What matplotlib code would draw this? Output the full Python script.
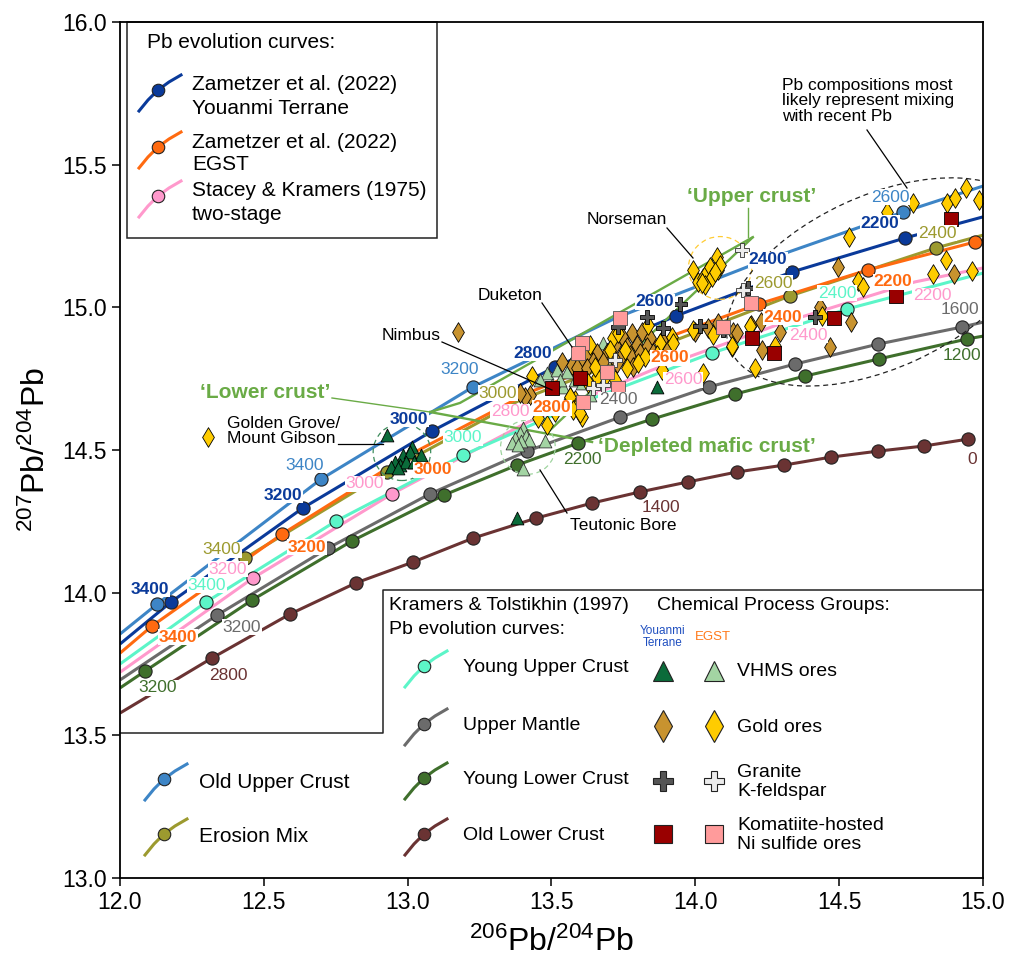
#!/usr/bin/env python3
"""Pb isotope evolution diagram: 207Pb/204Pb vs 206Pb/204Pb with ore groups."""

import numpy as np
import matplotlib
matplotlib.use("Agg")
import matplotlib.pyplot as plt
from matplotlib.patches import Ellipse, Polygon
from matplotlib.transforms import Affine2D

plt.rcParams["font.family"] = ["Liberation Sans", "DejaVu Sans"]
plt.rcParams["mathtext.fontset"] = "custom"
plt.rcParams["mathtext.rm"] = "Liberation Sans"
plt.rcParams["mathtext.default"] = "regular"
SANS = ["Liberation Sans", "DejaVu Sans"]

# -------- evolution curves (206Pb/204Pb, 207Pb/204Pb) --------
ouc_x = [12.00, 12.129, 12.699, 13.227, 13.724, 14.225, 14.722, 15.00]
ouc_y = [13.855, 13.960, 14.398, 14.721, 14.963, 15.159, 15.334, 15.425]
ouc_dots = [1, 2, 3, 6]

yt_x = [12.00, 12.177, 12.636, 13.084, 13.512, 13.933, 14.336, 14.729, 15.00]
yt_y = [13.820, 13.967, 14.297, 14.566, 14.791, 14.970, 15.124, 15.243, 15.317]
yt_dots = [1, 2, 3, 4, 5, 6, 7]

egst_x = [12.00, 12.111, 12.563, 12.991, 13.425, 13.877, 14.221, 14.600, 14.972, 15.00]
egst_y = [13.788, 13.883, 14.205, 14.475, 14.703, 14.885, 15.012, 15.131, 15.229, 15.236]
egst_dots = [1, 2, 6, 7, 8]

sk_x = [12.00, 12.462, 12.945, 13.418, 13.849, 14.311, 14.763, 15.00]
sk_y = [13.721, 14.051, 14.346, 14.598, 14.780, 14.948, 15.089, 15.138]
sk_dots = [1, 2]

yuc_x = [12.00, 12.299, 12.751, 13.192, 13.627, 14.058, 14.527, 15.00]
yuc_y = [13.750, 13.967, 14.251, 14.482, 14.675, 14.840, 14.994, 15.120]
yuc_dots = [1, 2, 3, 5, 6]

um_x = [12.00, 12.337, 12.723, 13.077, 13.415, 13.738, 14.047, 14.346, 14.635, 14.927, 15.00]
um_y = [13.694, 13.921, 14.156, 14.346, 14.496, 14.615, 14.721, 14.801, 14.871, 14.931, 14.948]
um_dots = [1, 2, 3, 4, 5, 6, 7, 8, 9]

ylc_x = [12.00, 12.087, 12.459, 12.806, 13.126, 13.380, 13.592, 13.849, 14.138, 14.381,
         14.638, 14.944, 15.00]
ylc_y = [13.666, 13.725, 13.974, 14.181, 14.342, 14.447, 14.524, 14.608, 14.696, 14.759,
         14.819, 14.889, 14.899]
ylc_dots = list(range(1, 12))

olc_x = [12.00, 12.320, 12.591, 12.820, 13.018, 13.227, 13.446, 13.641, 13.807, 13.974,
         14.145, 14.308, 14.471, 14.635, 14.795, 14.947]
olc_y = [13.578, 13.771, 13.925, 14.034, 14.107, 14.191, 14.261, 14.314, 14.353, 14.388,
         14.423, 14.447, 14.475, 14.496, 14.514, 14.538]
olc_dots = list(range(1, 16))

em_x = [12.434, 12.928, 13.390, 13.860, 14.329, 14.836, 15.00]
em_y = [14.121, 14.423, 14.675, 14.857, 15.040, 15.208, 15.253]
em_dots = [0, 1, 4, 5]

# -------- mixing lines --------
mix_upper_a_x = [13.078, 13.182, 14.200]
mix_upper_a_y = [14.633, 14.665, 15.246]
mix_upper_b_x = [13.488, 14.197]
mix_upper_b_y = [14.563, 15.243]
mix_mafic_x = [13.078, 13.641]
mix_mafic_y = [14.633, 14.528]

# -------- ore samples --------
yt_vhms_x = [12.928, 13.015, 13.046, 12.984, 13.008, 12.956, 12.973, 12.994, 12.942, 12.966,
             13.022, 13.380, 13.867]
yt_vhms_y = [14.552, 14.510, 14.482, 14.482, 14.493, 14.458, 14.447, 14.458, 14.440, 14.437,
             14.458, 14.261, 14.721]

eg_vhms_x = [13.401, 13.390, 13.411, 13.373, 13.422, 13.394, 13.363, 13.383, 13.477, 13.401,
             13.484, 13.519, 13.554, 13.582, 13.540, 13.564, 13.606, 13.679, 13.502, 13.460,
             13.529, 13.634]
eg_vhms_y = [14.577, 14.559, 14.549, 14.542, 14.535, 14.531, 14.524, 14.517, 14.531, 14.433,
             14.770, 14.780, 14.773, 14.745, 14.721, 14.700, 14.735, 14.875, 14.728, 14.745,
             14.745, 14.693]

yt_gold_x = [13.780, 13.814, 13.842, 13.748, 13.762, 13.797, 13.832, 13.721, 13.693, 13.658,
             13.623, 13.599, 13.571, 13.644, 13.679, 13.714, 13.745, 13.773, 13.807, 13.853,
             13.901, 13.884, 13.536, 13.588, 13.623, 13.783, 13.727, 13.425, 13.408, 13.390,
             13.175, 13.999, 14.044, 14.079, 14.131, 14.193, 14.228, 14.145, 14.294, 14.231,
             14.433, 14.496, 14.541, 14.468, 14.899]
yt_gold_y = [14.910, 14.913, 14.892, 14.892, 14.861, 14.868, 14.861, 14.868, 14.840, 14.840,
             14.833, 14.815, 14.798, 14.808, 14.808, 14.826, 14.833, 14.833, 14.840, 14.840,
             14.861, 14.885, 14.808, 14.787, 14.787, 14.791, 14.805, 14.693, 14.686, 14.700,
             14.913, 14.913, 14.927, 14.945, 14.913, 14.938, 14.948, 14.910, 14.913, 14.850,
             15.001, 15.141, 14.948, 14.861, 15.117]

eg_gold_x = [13.992, 14.009, 14.026, 14.040, 14.051, 14.058, 14.075, 14.079, 14.086, 14.033,
             14.023, 14.068,
             13.432, 13.714, 13.731, 13.835, 13.919, 13.922, 13.877, 13.867, 13.825, 13.800,
             13.762, 13.721, 13.686, 13.658, 13.627, 13.582, 13.588, 13.606, 13.564, 13.651,
             13.884, 13.992, 14.026, 14.061, 14.127, 13.575, 13.484, 13.453, 13.512, 13.599,
             13.755, 13.703, 13.634,
             14.756, 14.875, 14.902, 14.941, 14.986, 14.534, 14.871, 14.826, 14.961, 14.565,
             14.583, 14.440, 14.277, 14.127, 14.190, 14.207, 14.666, 12.306]
eg_gold_y = [15.131, 15.089, 15.103, 15.124, 15.141, 15.106, 15.176, 15.131, 15.148, 15.078,
             15.085, 15.124,
             14.759, 14.892, 14.910, 14.938, 14.896, 14.875, 14.875, 14.833, 14.826, 14.805,
             14.787, 14.745, 14.756, 14.756, 14.735, 14.675, 14.651, 14.616, 14.686, 14.791,
             14.780, 14.920, 14.770, 14.903, 14.861, 14.640, 14.587, 14.612, 14.633, 14.630,
             14.850, 14.850, 14.868,
             15.366, 15.366, 15.383, 15.418, 15.376, 15.246, 15.166, 15.117, 15.127, 15.092,
             15.071, 14.969, 14.864, 14.864, 14.934, 14.787, 15.334, 14.545]

yt_gran_x = [13.946, 13.832, 13.731, 13.887, 14.016, 14.096, 14.183, 14.416]
yt_gran_y = [15.012, 14.966, 14.931, 14.927, 14.934, 14.920, 15.068, 14.966]
eg_gran_x = [14.162, 14.165, 13.644, 13.679, 13.721]
eg_gran_y = [15.201, 15.061, 14.717, 14.728, 14.815]

yt_ni_x = [13.502, 13.599, 14.697, 14.482, 14.197, 14.273, 14.888]
yt_ni_y = [14.717, 14.752, 15.040, 14.962, 14.892, 14.840, 15.310]
eg_ni_x = [13.738, 13.606, 13.592, 13.731, 13.609, 14.193, 14.096, 13.693]
eg_ni_y = [14.963, 14.875, 14.840, 14.717, 14.668, 15.015, 14.931, 14.773]

# -------- colours --------
C_OUC, C_YT, C_EGST, C_SK = "#3d85c6", "#0a3a9a", "#ff6a10", "#ff99cc"
C_YUC, C_UM, C_YLC, C_OLC, C_EM = "#5cf5c8", "#6b6b6b", "#3f6f2c", "#6a3333", "#9c9a2f"
C_MIX = "#6aab46"

W, H = 1011, 964
fig = plt.figure(figsize=(W / 100, H / 100), dpi=100)
ax = fig.add_axes([120 / W, 1 - 878 / H, 863 / W, 856 / H])
PX = Affine2D().scale(1 / W, -1 / H).translate(0, 1) + fig.transFigure   # layout in pixels

# -------- curves --------
curves = [
    (em_x, em_y, em_dots, C_EM),
    (olc_x, olc_y, olc_dots, C_OLC),
    (ylc_x, ylc_y, ylc_dots, C_YLC),
    (um_x, um_y, um_dots, C_UM),
    (sk_x, sk_y, sk_dots, C_SK),
    (yuc_x, yuc_y, yuc_dots, C_YUC),
    (egst_x, egst_y, egst_dots, C_EGST),
    (yt_x, yt_y, yt_dots, C_YT),
    (ouc_x, ouc_y, ouc_dots, C_OUC),
]
for cx, cy, dots, col in curves:
    ax.plot(cx, cy, color=col, lw=2.2, zorder=2, solid_capstyle="butt")
    ax.plot(np.array(cx)[dots], np.array(cy)[dots], "o", ms=9.5, mfc=col, mec="#222222",
            mew=0.8, zorder=4)

for mx, my in [(mix_upper_a_x, mix_upper_a_y), (mix_upper_b_x, mix_upper_b_y),
               (mix_mafic_x, mix_mafic_y)]:
    ax.plot(mx, my, color=C_MIX, lw=1.7, zorder=2.5)

# age labels (pixel layout)
age_labels = [
    (C_YT, True, [("3400", 150, 589), ("3200", 283, 495), ("3000", 409, 419), ("2800", 533, 353),
                  ("2600", 655, 302), ("2400", 768, 260), ("2200", 880, 223)]),
    (C_OUC, False, [("3400", 305, 465), ("3200", 460, 370), ("2600", 890, 197)]),
    (C_EGST, True, [("3400", 178, 637), ("3200", 307, 547), ("3000", 433, 470), ("2800", 552, 408),
                    ("2600", 670, 358), ("2400", 783, 317), ("2200", 893, 282)]),
    (C_SK, False, [("3200", 228, 569), ("3000", 365, 484), ("2800", 510, 412), ("2600", 683, 380),
                   ("2400", 808, 335), ("2200", 932, 296)]),
    (C_YUC, False, [("3400", 207, 585), ("3000", 463, 438), ("2400", 837, 293)]),
    (C_UM, False, [("3200", 242, 627), ("2400", 618, 400), ("1600", 960, 310)]),
    (C_YLC, False, [("3200", 158, 688), ("2200", 582, 459), ("1200", 962, 355)]),
    (C_OLC, False, [("2800", 228, 675), ("1400", 661, 508), ("0", 972, 459)]),
    (C_EM, False, [("3400", 222, 550), ("3000", 498, 393), ("2600", 773, 283), ("2400", 937, 233)]),
]
for col, bold, items in age_labels:
    for s, lx, ly in items:
        ax.text(lx, ly, s, transform=PX, ha="center", va="center", fontsize=12.5, color=col,
                fontweight="bold" if bold else "normal", zorder=5.8,
                bbox=dict(fc="white", ec="none", pad=0.4))

# -------- sample groups --------
ax.scatter(yt_vhms_x, yt_vhms_y, marker="^", s=85, c="#0b6b3a", edgecolors="k", linewidths=0.6, zorder=5)
ax.scatter(eg_vhms_x, eg_vhms_y, marker="^", s=85, c="#a3d4a3", edgecolors="#333333", linewidths=0.6, zorder=5)
ax.scatter(yt_gold_x, yt_gold_y, marker="d", s=100, c="#c8932f", edgecolors="k", linewidths=0.6, zorder=5.2)
ax.scatter(eg_gold_x, eg_gold_y, marker="d", s=100, c="#ffcc00", edgecolors="k", linewidths=0.6, zorder=5.3)
ax.scatter(yt_gran_x, yt_gran_y, marker="P", s=100, c="#555555", edgecolors="k", linewidths=0.6, zorder=5.4)
ax.scatter(eg_gran_x, eg_gran_y, marker="P", s=100, c="#ececec", edgecolors="#333333", linewidths=0.6, zorder=5.4)
ax.scatter(yt_ni_x, yt_ni_y, marker="s", s=95, c="#990000", edgecolors="k", linewidths=0.6, zorder=5.5)
ax.scatter(eg_ni_x, eg_ni_y, marker="s", s=95, c="#ff9b9b", edgecolors="#555555", linewidths=0.6, zorder=5.5)

# -------- dashed outlines --------
ax.add_patch(Ellipse((12.980, 14.493), 0.20, 0.20, fill=False, ec="#3d8c5c", lw=0.9, ls=(0, (4, 3)), zorder=4.5))
ax.add_patch(Ellipse((13.418, 14.510), 0.19, 0.19, fill=False, ec="#9fd49f", lw=0.9, ls=(0, (4, 3)), zorder=4.5))
ax.add_patch(Ellipse((14.086, 15.138), 0.22, 0.22, fill=False, ec="#ffcc33", lw=0.9, ls=(0, (4, 3)), zorder=4.5))
ax.add_patch(Ellipse((14.642, 15.089), 1.144, 0.603, angle=25, fill=False, ec="#222222", lw=0.9,
                     ls=(0, (4, 3)), zorder=4.5))

# -------- annotations --------
def leader(x0, y0, x1, y1, col="black", lw=0.9):
    ax.plot([x0, x1], [y0, y1], color=col, lw=lw, transform=PX, clip_on=False, zorder=6)

for s, lx, ly in [("Norseman", 627, 220), ("Duketon", 510, 295), ("Nimbus", 411, 335),
                  ("Teutonic Bore", 623, 525)]:
    ax.text(lx, ly, s, transform=PX, ha="center", va="center", fontsize=12.5, zorder=6)
ax.text(227, 431, "Golden Grove/\nMount Gibson", transform=PX, ha="left", va="center",
        fontsize=12.5, linespacing=1.05, zorder=6)
ax.text(782, 101, "Pb compositions most\nlikely represent mixing\nwith recent Pb", transform=PX,
        ha="left", va="center", fontsize=12.5, linespacing=1.05, zorder=6)
leader(667, 228, 693, 258)
leader(542, 303, 572, 347)
leader(442, 342, 552, 390)
leader(338, 444, 383, 444)
leader(540, 470, 567, 513)
leader(867, 130, 907, 188)

for s, lx, ly, ha in [("\u2018Upper crust\u2019", 752, 197, "center"),
                      ("\u2018Lower crust\u2019", 265, 392, "center"),
                      ("\u2018Depleted mafic crust\u2019", 598, 447, "left")]:
    ax.text(lx, ly, s, transform=PX, ha=ha, va="center", fontsize=15, fontweight="bold",
            color=C_MIX, zorder=6)
leader(748, 208, 748, 237, C_MIX, 1.0)
leader(332, 398, 430, 412, C_MIX, 1.0)

# -------- legend panels --------
ax.add_patch(Polygon([(127, 22), (437, 22), (437, 238), (127, 238)], closed=True, transform=PX,
                     fc="white", ec="#222222", lw=1.1, zorder=7, clip_on=False))
ax.add_patch(Polygon([(120, 733), (383, 733), (383, 590), (983, 590), (983, 878), (120, 878)],
                     closed=True, transform=PX, fc="white", ec="none", zorder=7, clip_on=False))
ax.plot([120, 383, 383, 983], [733, 733, 590, 590], color="#222222", lw=1.1, transform=PX,
        clip_on=False, zorder=8)

ICON = np.array([[-19, 21], [-10, 10], [0, 0], [11, -8], [23, -15]])


def legend_curve(px, py, col):
    ax.plot(px + ICON[:, 0], py + ICON[:, 1], color=col, lw=2.2, transform=PX, clip_on=False, zorder=9)
    ax.plot([px], [py], "o", ms=9, mfc=col, mec="#222222", mew=0.8, transform=PX, clip_on=False, zorder=9)


def legend_text(x, y, s, size=15, **kw):
    ax.text(x, y, s, transform=PX, ha=kw.pop("ha", "left"), va="center", fontsize=size,
            family=SANS, zorder=9, **kw)


legend_text(147, 43, "Pb evolution curves:")
for col, my, l1, l2 in [(C_YT, 90, "Zametzer et al. (2022)", "Youanmi Terrane"),
                        (C_EGST, 147, "Zametzer et al. (2022)", "EGST"),
                        (C_SK, 196, "Stacey & Kramers (1975)", "two-stage")]:
    legend_curve(158, my, col)
    legend_text(192, my - 5, l1)
    legend_text(192, my + 18, l2)

legend_text(389, 606, "Kramers & Tolstikhin (1997)", size=14)
legend_text(389, 630, "Pb evolution curves:", size=14)
legend_text(657, 606, "Chemical Process Groups:", size=14)
legend_text(663, 637, "Youanmi\nTerrane", size=8.5, ha="center", color="#1f4fc0", linespacing=1.0)
legend_text(713, 637, "EGST", size=9.5, ha="center", color="#ff7a1a")
for col, my, s in [(C_YUC, 666, "Young Upper Crust"), (C_UM, 724, "Upper Mantle"),
                   (C_YLC, 778, "Young Lower Crust"), (C_OLC, 834, "Old Lower Crust")]:
    legend_curve(424, my, col)
    legend_text(463, my + 2, s, size=14)
for col, my, s in [(C_OUC, 779, "Old Upper Crust"), (C_EM, 834, "Erosion Mix")]:
    legend_curve(164, my, col)
    legend_text(199, my + 3, s)

groups = [
    ("^", 14, "#0b6b3a", "#a3d4a3", 671, "VHMS ores"),
    ("d", 16, "#c8932f", "#ffcc00", 726, "Gold ores"),
    ("P", 14, "#555555", "#ececec", 781, "Granite\nK-feldspar"),
    ("s", 13, "#990000", "#ff9b9b", 834, "Komatiite-hosted\nNi sulfide ores"),
]
for mk, ms, c1, c2, my, s in groups:
    for mx, c in [(663, c1), (714, c2)]:
        ax.plot([mx], [my], mk, ms=ms, mfc=c, mec="#222222", mew=0.8, transform=PX,
                clip_on=False, zorder=9)
    legend_text(737, my + 1, s, size=14, linespacing=1.2)

# -------- axes --------
ax.set_xlim(12, 15)
ax.set_ylim(13, 16)
ax.set_xticks(np.arange(12, 15.01, 0.5))
ax.set_yticks(np.arange(13, 16.01, 0.5))
ax.set_xticklabels([f"{v:.1f}" for v in np.arange(12, 15.01, 0.5)])
ax.set_yticklabels([f"{v:.1f}" for v in np.arange(13, 16.01, 0.5)])
ax.tick_params(labelsize=16.5, length=6, width=1.1, direction="out")
for sp in ax.spines.values():
    sp.set_linewidth(1.3)
    sp.set_zorder(10)

fig.text(551, 942, r"$^{206}$Pb/$^{204}$Pb", transform=PX, ha="center", va="center", fontsize=23)
fig.text(36, 450, r"$^{207}$Pb/$^{204}$Pb", transform=PX, ha="center", va="center", fontsize=23,
         rotation=90)

fig.savefig("out.png", dpi=100)
